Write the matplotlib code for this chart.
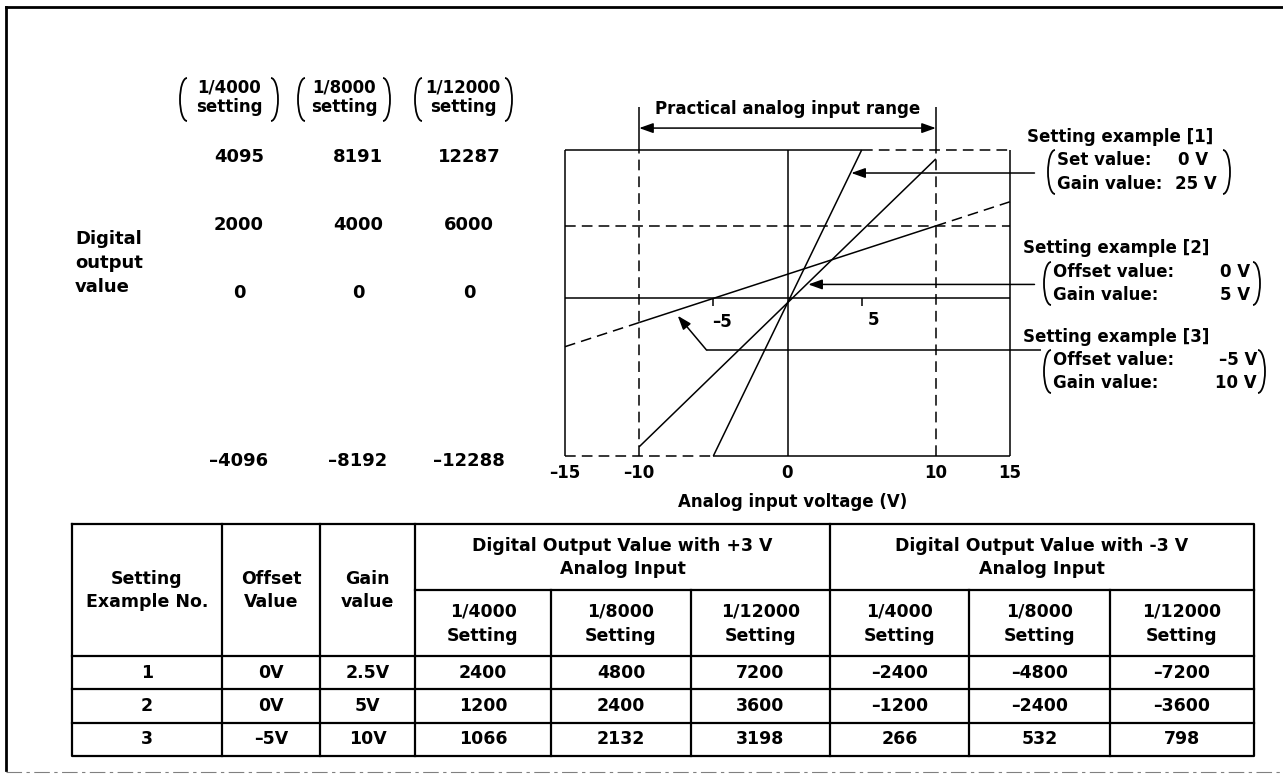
import matplotlib
matplotlib.use("Agg")
import matplotlib.pyplot as plt
from matplotlib.patches import Arc

W, H = 1283, 774

# input voltage axis (V)
volt_ticks = [-15, -10, 0, 10, 15]
volt_minor = [-5, 5]
input_range = [-10, 10]

# digital output (1/4000 setting) against input voltage, as drawn
ex1_v = [-5, 5]
ex1_d = [-4350, 4095]
ex2_v = [-10, 10]
ex2_d = [-4096, 3850]
ex3_v = [-15, -10, 10, 15]
ex3_d = [-1333, -667, 2000, 2667]
mid_level = 2000

# resolution columns on the left
res_names = ["1/4000", "1/8000", "1/12000"]
res_top = [4095, 8191, 12287]
res_mid = [2000, 4000, 6000]
res_zero = [0, 0, 0]
res_bottom = [-4096, -8192, -12288]

# setting examples on the right
ex_titles = ["Setting example [1]", "Setting example [2]", "Setting example [3]"]
ex_labels = [["Set value:", "Gain value:"],
             ["Offset value:", "Gain value:"],
             ["Offset value:", "Gain value:"]]
ex_values = [["0 V", "25 V"], ["0 V", "5 V"], ["\u20135 V", "10 V"]]

# table
tbl_no = ["1", "2", "3"]
tbl_offset = ["0V", "0V", "\u20135V"]
tbl_gain = ["2.5V", "5V", "10V"]
out_plus3 = [[2400, 4800, 7200], [1200, 2400, 3600], [1066, 2132, 3198]]
out_minus3 = [[-2400, -4800, -7200], [-1200, -2400, -3600], [266, 532, 798]]


def fmt(v):
    return str(v).replace("-", "\u2013")


plt.rcParams["font.family"] = ["DejaVu Sans"]
plt.rcParams["font.weight"] = "bold"

fig = plt.figure(figsize=(W / 100, H / 100), dpi=100)

# pixel-space layer for frame, labels and the table
bg = fig.add_axes([0, 0, 1, 1])
bg.set_xlim(0, W)
bg.set_ylim(H, 0)
bg.axis("off")


def paren(x, y0, y1, left=True, w=7):
    yc = (y0 + y1) / 2
    if left:
        bg.add_patch(Arc((x + w, yc), 2 * w, y1 - y0, theta1=90, theta2=270, lw=1.3, color="k"))
    else:
        bg.add_patch(Arc((x - w, yc), 2 * w, y1 - y0, theta1=-90, theta2=90, lw=1.3, color="k"))


# outer frame
bg.plot([6, 6], [7, 770], color="k", lw=2)
bg.plot([6, W], [7, 7], color="k", lw=2)
bg.plot([6, W], [772, 772], color="0.5", lw=0.8, dashes=(14, 4, 3, 4))

# left resolution scale
head_cx = [229, 344, 463]
paren_x = [(180, 278), (298, 390), (415, 512)]
num_cx = [239, 358, 469]
for i in range(3):
    bg.text(head_cx[i], 88, res_names[i], ha="center", va="center", fontsize=12)
    bg.text(head_cx[i], 107, "setting", ha="center", va="center", fontsize=12)
    paren(paren_x[i][0], 78, 121, left=True)
    paren(paren_x[i][1], 78, 121, left=False)
    for y, vals in zip([157, 225, 293, 461], [res_top, res_mid, res_zero, res_bottom]):
        bg.text(num_cx[i], y, fmt(vals[i]), ha="center", va="center", fontsize=13)

for y, s in zip([239, 263, 287], ["Digital", "output", "value"]):
    bg.text(75, y, s, ha="left", va="center", fontsize=13)

# setting example notes
title_pos = [(1027, 137), (1023, 248), (1023, 337)]
line_y = [(160, 184), (272, 295), (360, 383)]
label_x = [1057, 1053, 1053]
value_x = [(1208, 1217), (1250, 1250), (1257, 1257)]
rparen_x = [1230, 1260, 1265]
for i in range(3):
    bg.text(title_pos[i][0], title_pos[i][1], ex_titles[i], ha="left", va="center", fontsize=12)
    for j in range(2):
        bg.text(label_x[i], line_y[i][j], ex_labels[i][j], ha="left", va="center", fontsize=12)
        bg.text(value_x[i][j], line_y[i][j], ex_values[i][j], ha="right", va="center", fontsize=12)
    paren(label_x[i] - 9, line_y[i][0] - 10, line_y[i][1] + 10, left=True)
    paren(rparen_x[i], line_y[i][0] - 10, line_y[i][1] + 10, left=False)

# table grid
col_x = [72, 222, 320, 415, 551, 691, 830, 969, 1110, 1254]
row_y = [524, 590, 656, 689, 723, 756]
tk = dict(color="k", lw=1.6, solid_capstyle="projecting")
bg.plot([col_x[0], col_x[-1], col_x[-1], col_x[0], col_x[0]],
        [row_y[0], row_y[0], row_y[-1], row_y[-1], row_y[0]], **tk)
for x in col_x[1:4] + [col_x[6]]:
    bg.plot([x, x], [row_y[0], row_y[-1]], **tk)
for x in col_x[4:6] + col_x[7:9]:
    bg.plot([x, x], [row_y[1], row_y[-1]], **tk)
bg.plot([col_x[3], col_x[-1]], [row_y[1]] * 2, **tk)
for y in row_y[2:5]:
    bg.plot([col_x[0], col_x[-1]], [y, y], **tk)

tf = dict(ha="center", va="center", fontsize=12.5)
first_heads = [("Setting", "Example No."), ("Offset", "Value"), ("Gain", "value")]
for i, (a, b) in enumerate(first_heads):
    cx = (col_x[i] + col_x[i + 1]) / 2
    bg.text(cx, 579, a, **tf)
    bg.text(cx, 602, b, **tf)
for g, sign in enumerate(["+3 V", "-3 V"]):
    cx = (col_x[3 + 3 * g] + col_x[6 + 3 * g]) / 2
    bg.text(cx, 546, "Digital Output Value with " + sign, **tf)
    bg.text(cx, 569, "Analog Input", **tf)
    for k in range(3):
        c = 3 + 3 * g + k
        sx = (col_x[c] + col_x[c + 1]) / 2
        bg.text(sx, 612, res_names[k], **tf)
        bg.text(sx, 636, "Setting", **tf)

for r in range(3):
    cy = (row_y[2 + r] + row_y[3 + r]) / 2
    cells = [tbl_no[r], tbl_offset[r], tbl_gain[r]] + \
        [fmt(v) for v in out_plus3[r]] + [fmt(v) for v in out_minus3[r]]
    for c, s in enumerate(cells):
        cx = (col_x[c] + col_x[c + 1]) / 2
        bg.text(cx, cy, s, **tf)

# characteristic chart
ax = fig.add_axes([565 / W, 1 - 456 / H, 445 / W, 306 / H])
x_min, x_max = volt_ticks[0], volt_ticks[-1]
d_bot, d_top = -4350, 4095
ax.set_xlim(x_min, x_max)
ax.set_ylim(d_bot, d_top)
ax.axis("off")

k = dict(color="k", lw=1.1, clip_on=False, solid_capstyle="butt")
dash = (7, 4)

# frame of the chart, partly dashed
ax.plot([x_min, x_min], [d_bot, d_top], **k)
ax.plot([x_max, x_max], [d_bot, d_top], **k)
ax.plot([x_min, volt_minor[1]], [d_top] * 2, **k)
ax.plot([volt_minor[1], x_max], [d_top] * 2, dashes=dash, **k)
ax.plot([x_min, volt_minor[0]], [d_bot] * 2, dashes=dash, **k)
ax.plot([volt_minor[0], x_max], [d_bot] * 2, **k)

# reference lines
ax.plot([0, 0], [d_bot, d_top], **k)
ax.plot([x_min, x_max], [0, 0], **k)
ax.plot([x_min, x_max], [mid_level] * 2, dashes=dash, **k)
for v in input_range:
    ax.plot([v, v], [d_bot, d_top], dashes=dash, **k)
    ax.plot([v, v], [d_top, 5290], **k)
for v in volt_minor:
    ax.plot([v, v], [0, -220], **k)
ax.text(-4.4, -640, "\u20135", ha="center", va="center", fontsize=12)
ax.text(5.8, -590, "5", ha="center", va="center", fontsize=12)

# example characteristics
ax.plot(ex1_v, ex1_d, **k)
ax.plot(ex2_v, ex2_d, **k)
ax.plot(ex3_v[:2], ex3_d[:2], dashes=dash, **k)
ax.plot(ex3_v[1:3], ex3_d[1:3], **k)
ax.plot(ex3_v[2:], ex3_d[2:], dashes=dash, **k)

arrow_kw = dict(arrowstyle="-|>,head_length=0.7,head_width=0.25", mutation_scale=12,
                lw=1.1, color="k", shrinkA=0, shrinkB=0)
ax.annotate("", xy=(input_range[0], 4700), xytext=(input_range[1], 4700),
            arrowprops=dict(arrow_kw, arrowstyle="<|-|>,head_length=0.7,head_width=0.25"),
            annotation_clip=False)
ax.text(0, 5230, "Practical analog input range", ha="center", va="center", fontsize=12)

ax.annotate("", xy=(4.3, 3460), xytext=(16.65, 3460), arrowprops=arrow_kw, annotation_clip=False)
ax.annotate("", xy=(1.4, 385), xytext=(16.65, 385), arrowprops=arrow_kw, annotation_clip=False)
ax.plot([17.1, -5.45], [-1430, -1430], **k)
ax.annotate("", xy=(-7.4, -480), xytext=(-5.45, -1430), arrowprops=arrow_kw, annotation_clip=False)

for v in volt_ticks:
    ax.annotate(fmt(v), xy=(v, d_bot), xytext=(0, -12), textcoords="offset points",
                ha="center", va="center", fontsize=12, annotation_clip=False)
ax.annotate("Analog input voltage (V)", xy=(0, d_bot), xytext=(4, -33), textcoords="offset points",
            ha="center", va="center", fontsize=12, annotation_clip=False)

fig.savefig("out.png", dpi=100, facecolor="white")
